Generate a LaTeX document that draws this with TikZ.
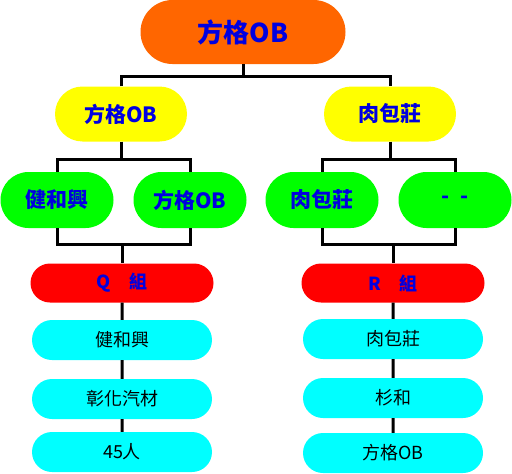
\documentclass[tikz,border=0pt]{standalone}
\usepackage{fontspec}
\setmainfont{Noto Sans CJK TC}
\usepackage{xcolor}
\usepackage{tikz}
\usetikzlibrary{shapes.misc}

\definecolor{topfill}{HTML}{FF6600}
\definecolor{areafill}{HTML}{FFFF00}
\definecolor{subfill}{HTML}{00FF00}
\definecolor{groupfill}{HTML}{FF0000}
\definecolor{itemfill}{HTML}{00FFFF}
\definecolor{txtblue}{HTML}{0000E0}

\begin{document}
\begin{tikzpicture}[
    x=1pt, y=-1pt,
    pill/.style={rounded rectangle, inner sep=0pt, align=center},
    headbox/.style={pill, fill=topfill, minimum width=205pt, minimum height=64pt, text=txtblue, font=\bfseries\fontsize{26}{28}\selectfont},
    areabox/.style={pill, fill=areafill, minimum width=132pt, minimum height=55pt, text=txtblue, font=\bfseries\fontsize{21}{23}\selectfont},
    subbox/.style={pill, fill=subfill, minimum width=113pt, minimum height=56pt, text=txtblue, font=\bfseries\fontsize{21}{23}\selectfont},
    groupbox/.style={pill, fill=groupfill, minimum width=183pt, minimum height=39pt, text=txtblue, font=\bfseries\fontsize{18}{20}\selectfont},
    itembox/.style={pill, fill=itemfill, minimum width=180pt, minimum height=40pt, text=black, font=\fontsize{18}{20}\selectfont},
    link/.style={draw=black, line width=3pt}
]
\useasboundingbox (0,0) rectangle (512,474);

\node[headbox] (top) at (243,32) {方格OB};

\node[areabox] (al) at (121,114) {方格OB};
\node[areabox] (ar) at (390,114) {肉包莊};

\node[subbox] (sl1) at (57,200) {健和興};
\node[subbox] (sl2) at (190,200) {方格OB};
\node[subbox] (sr1) at (322,200) {肉包莊};
\node[subbox] (sr2) at (455,200) {-\enspace-};

\node[groupbox] (gq) at (122,283) {Q\quad 組};
\node[groupbox] (gr) at (393,283) {R\quad 組};

\node[itembox] (q1) at (122,340) {健和興};
\node[itembox] (q2) at (122,399) {彰化汽材};
\node[itembox] (q3) at (122,452) {45人};

\node[itembox] (r1) at (393,339) {肉包莊};
\node[itembox] (r2) at (393,398) {杉和};
\node[itembox] (r3) at (393,453) {方格OB};

% junction points
\coordinate (tj) at (243,76);
\coordinate (lj) at (121,159);
\coordinate (rj) at (390,159);
\coordinate (lb) at (122,244);
\coordinate (rb) at (393,244);

\draw[link] (top.south) -- (tj);
\draw[link] (al.north) |- (tj) -| (ar.north);

\draw[link] (al.south) -- (lj);
\draw[link] (sl1.north) |- (lj) -| (sl2.north);
\draw[link] (ar.south) -- (rj);
\draw[link] (sr1.north) |- (rj) -| (sr2.north);

\draw[link] (sl1.south) |- (lb) -| (sl2.south);
\draw[link] (lb) -- (gq.north);
\draw[link] (sr1.south) |- (rb) -| (sr2.south);
\draw[link] (rb) -- (gr.north);

\draw[link] (gq) -- (q1);
\draw[link] (q1) -- (q2);
\draw[link] (q2) -- (q3);
\draw[link] (gr) -- (r1);
\draw[link] (r1) -- (r2);
\draw[link] (r2) -- (r3);
\end{tikzpicture}
\end{document}
